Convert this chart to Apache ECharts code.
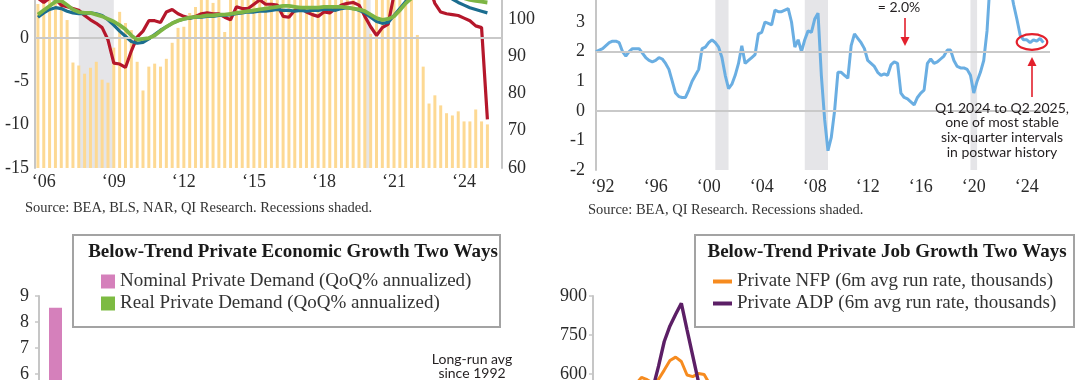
<!DOCTYPE html>
<html><head><meta charset="utf-8">
<script src="https://cdn.jsdelivr.net/npm/echarts@6/dist/echarts.min.js"></script>
<style>html,body{margin:0;padding:0;background:#fff}#c{width:1080px;height:380px}</style>
</head><body><div id="c"></div>
<script>
// ---------- Panel 1 (top-left): quarterly, 2005 Q4 .. 2025 Q3 ----------
const p1Start = [2005, 4];
const p1Count = 80;
const p1TickYears = [2006, 2009, 2012, 2015, 2018, 2021, 2024];
const p1TickLabels = ['\u201806', '\u201809', '\u201812', '\u201815', '\u201818', '\u201821', '\u201824'];
const p1Bars = [104,109,110,108,107,99.7,88.3,87.5,85.3,86.9,88.5,83.7,82.9,92.3,101.9,98.9,97,88.5,80.8,87.2,88,87.2,89.3,93.6,97.6,97.9,101.6,103.2,108,109,104.3,107,96.5,
  108,110,109,111,112,110,109,111,112,113,112,110,111,112,113,112,111,110,109,110,111,110,109,108,
  96,
  108,112,115,116,114,110,107,
  95.7,87.2,77.3,79.5,76.8,74.7,74.1,75.2,72.5,72.5,75.7,72.5,71.7,null,null];
const p1Red = [4.6,4.1,4.6,4.5,3.8,3.6,3.4,3.2,2.6,2.1,
  1.7,1.2,-0.2,-2.9,-3.0,-3.4,-1.5,0.1,0.8,2.0,
  2.0,1.8,3.0,3.3,2.8,2.5,2.3,2.5,2.8,2.9,
  2.8,2.8,2.4,2.1,3.6,3.4,3.4,3.9,4.4,3.9,
  3.9,3.8,2.5,2.4,3.2,3.5,3.0,2.7,2.5,3.0,
  2.9,3.4,3.8,4.0,4.1,3.8,2.5,1.3,0.3,1.2,
  1.6,5.0,8.0,10.0,11.0,11.0,10.0,6.0,4.0,3.0,
  2.8,2.7,2.6,2.3,2.0,1.4,1.2,-9.4,null,null];
const p1Blue = [2.4,2.9,3.3,3.5,3.4,3.1,2.9,2.8,2.8,2.9,
  2.8,2.6,2.1,1.5,0.8,0.2,-0.4,-0.6,-0.5,-0.1,
  0.4,0.9,1.3,1.7,2.0,2.2,2.3,2.4,2.4,2.5,
  2.5,2.6,2.6,2.7,2.8,2.9,3.0,3.0,3.1,3.1,
  3.2,3.3,3.2,3.2,3.1,3.2,3.1,3.2,3.2,3.3,
  3.3,3.2,3.4,3.5,3.4,3.2,2.9,2.4,1.9,1.7,
  1.8,2.6,3.4,4.2,5.0,6.0,7.0,7.4,7.2,6.3,
  5.2,4.5,4.1,3.8,3.5,3.3,3.1,2.9,null,null];
const p1Green = [2.7,3.2,3.7,4.2,4.3,3.8,3.3,3.0,2.9,2.9,
  2.7,2.5,2.2,1.9,1.5,1.0,0.3,-0.2,-0.1,0.0,
  0.3,0.8,1.3,1.7,2.0,2.2,2.35,2.45,2.5,2.6,
  2.6,2.7,2.7,2.8,2.9,3.0,3.1,3.2,3.3,3.4,
  3.5,3.6,3.7,3.7,3.6,3.5,3.5,3.5,3.5,3.6,
  3.6,3.6,3.6,3.5,3.4,3.3,3.1,2.7,2.3,2.1,
  2.2,2.5,3.2,4.0,4.6,5.4,6.0,6.4,6.5,6.2,
  5.7,5.2,4.9,4.6,4.4,4.3,4.2,4.1,null,null];
const p1Recessions = [['2007 Q3', '2009 Q1'], ['2019 Q4', '2020 Q1']];

// ---------- Panel 2 (top-right): quarterly, 1991 Q3 .. 2025 Q4 ----------
const p2Start = [1991, 3];
const p2Count = 138;
const p2TickYears = [1992, 1996, 2000, 2004, 2008, 2012, 2016, 2020, 2024];
const p2TickLabels = ['\u201892', '\u201896', '\u201800', '\u201804', '\u201808', '\u201812', '\u201816', '\u201820', '\u201824'];
const p2Line = [2.0,2.05,2.1,2.2,2.3,2.35,2.35,2.3,2.0,1.85,
  2.0,2.1,2.1,2.1,1.95,1.8,1.7,1.65,1.7,1.8,
  1.75,1.6,1.4,1.0,0.6,0.48,0.45,0.45,0.7,1.0,
  1.2,1.4,2.1,2.15,2.3,2.4,2.3,2.15,1.8,1.2,
  0.75,0.9,1.2,1.6,2.2,1.6,1.7,1.8,1.9,2.6,
  2.65,3.0,2.95,2.9,3.4,3.35,3.35,3.4,3.45,3.0,
  2.15,2.4,2.0,2.4,2.7,2.65,3.1,3.3,1.2,-0.3,
  -1.35,-0.9,0.0,1.3,1.3,1.2,1.1,2.2,2.6,2.45,
  2.3,2.1,1.7,1.6,1.5,1.3,1.2,1.25,1.2,1.55,
  1.65,1.6,0.6,0.45,0.4,0.3,0.2,0.45,0.6,0.7,
  1.6,1.75,1.6,1.65,1.75,1.85,2.05,2.05,1.7,1.5,
  1.45,1.45,1.4,1.2,0.6,1.0,1.3,1.7,2.7,4.5,
  5.5,6.0,6.2,5.8,5.0,4.2,3.6,3.1,2.55,2.4,
  2.4,2.3,2.4,2.35,2.45,2.3,null,null];
const p2Recessions = [['2000 Q3', '2001 Q3'], ['2007 Q2', '2009 Q1'], ['2019 Q4', '2020 Q2']];
const p2RefLines = [0, 2];

// ---------- Panel 3 (bottom-left) ----------
const p3Cats = ['first period'];
const p3Nominal = [8.55];
const p3Real = [null];

// ---------- Panel 4 (bottom-right): monthly ----------
const p4Count = 40;
const p4Nfp = [null,null,null,null,null,null,null,560,587,578,565,580,615,652,665,648,596,590,602,598,560,
  null,null,null,null,null,null,null,null,null,null,null,null,null,null,null,null,null,null,null];
const p4Adp = [null,null,null,null,null,null,null,null,null,null,545,630,725,785,830,872,770,670,570,520,
  null,null,null,null,null,null,null,null,null,null,null,null,null,null,null,null,null,null,null,null];

// ---------- helpers ----------
function quarterCats(start, n) {
  const out = []; let y = start[0], q = start[1];
  for (let i = 0; i < n; i++) { out.push(y + ' Q' + q); q++; if (q > 4) { q = 1; y++; } }
  return out;
}
const p1Cats = quarterCats(p1Start, p1Count);
const p2Cats = quarterCats(p2Start, p2Count);
const p4Cats = Array.from({length: p4Count}, (_, i) => 'm' + (i + 1));
function tickFns(years, labels) {
  const map = {}; years.forEach((y, i) => { map[y + ' Q1'] = labels[i]; });
  return { interval: (idx, v) => map[v] !== undefined, formatter: v => map[v] || '' };
}
const t1 = tickFns(p1TickYears, p1TickLabels);
const t2 = tickFns(p2TickYears, p2TickLabels);

const SERIF = 'Liberation Serif';
const SANS = 'Lato';
const TXT = '#2a2a2a';
const AX = { show: true, lineStyle: { color: '#c6c6c6', width: 2 } };
const lab = (o) => Object.assign({ fontFamily: SERIF, fontSize: 18, color: TXT }, o);
const RED = '#e3202c';

const chart = echarts.init(document.getElementById('c'), null, { renderer: 'canvas' });
chart.setOption({
  animation: false,
  backgroundColor: '#ffffff',
  grid: [
    { left: 35, top: -5.3, width: 467, height: 173.3, outerBoundsMode: 'none' },
    { left: 596, top: -7.6, width: 454, height: 177.6, outerBoundsMode: 'none' },
    { left: 39, top: 296, width: 33, height: 234, outerBoundsMode: 'none' },
    { left: 593, top: 296, width: 228, height: 234, outerBoundsMode: 'none' }
  ],
  xAxis: [
    { type: 'category', gridIndex: 0, data: p1Cats, boundaryGap: true, axisLine: AX, axisTick: { show: false },
      axisLabel: lab({ interval: t1.interval, formatter: t1.formatter, margin: 5 }), splitLine: { show: false } },
    { type: 'category', gridIndex: 1, data: p2Cats, boundaryGap: false, axisLine: AX, axisTick: { show: false },
      axisLabel: lab({ interval: t2.interval, formatter: t2.formatter, margin: 8 }), splitLine: { show: false } },
    { type: 'category', gridIndex: 2, data: p3Cats, show: false },
    { type: 'category', gridIndex: 3, data: p4Cats, show: false, boundaryGap: true }
  ],
  yAxis: [
    { type: 'value', gridIndex: 0, min: -15, max: 5, interval: 5, axisLine: AX, axisTick: { show: false },
      splitLine: { show: false }, axisLabel: lab({ showMaxLabel: false, margin: 6 }) },
    { type: 'value', gridIndex: 0, position: 'right', min: 60, max: 106.5, interval: 10, axisLine: AX, axisTick: { show: false },
      splitLine: { show: false }, axisLabel: lab({ showMaxLabel: false, margin: 6 }) },
    { type: 'value', gridIndex: 1, min: -2, max: 4, interval: 1, axisLine: AX, axisTick: { show: false },
      splitLine: { show: false }, axisLabel: lab({ showMaxLabel: false, margin: 11 }) },
    { type: 'value', gridIndex: 2, min: 0, max: 9, interval: 1, axisLine: AX,
      axisTick: { show: true, length: 4, lineStyle: { color: '#c6c6c6', width: 1.5 } },
      splitLine: { show: false }, axisLabel: lab({ margin: 10 }) },
    { type: 'value', gridIndex: 3, min: 0, max: 900, interval: 150, axisLine: AX,
      axisTick: { show: true, length: 4, lineStyle: { color: '#c6c6c6', width: 1.5 } },
      splitLine: { show: false }, axisLabel: lab({ margin: 6 }) }
  ],
  legend: [
    { data: ['Nominal Private Demand (QoQ% annualized)', 'Real Private Demand (QoQ% annualized)'],
      left: 96, top: 267, orient: 'vertical', icon: 'rect', itemWidth: 14, itemHeight: 14, itemGap: 3,
      selectedMode: false, textStyle: { fontFamily: SERIF, fontSize: 19, color: '#333' }, z: 10 },
    { data: ['Private NFP (6m avg run rate, thousands)', 'Private ADP (6m avg run rate, thousands)'],
      left: 708, top: 267, orient: 'vertical', icon: 'rect', itemWidth: 19, itemHeight: 4, itemGap: 3,
      selectedMode: false, textStyle: { fontFamily: SERIF, fontSize: 19, color: '#333' }, z: 10 }
  ],
  series: [
    { type: 'line', xAxisIndex: 0, yAxisIndex: 0, data: p1Cats.map(() => null), z: 1, silent: true,
      markArea: { silent: true, itemStyle: { color: '#e5e5e8' },
        data: p1Recessions.map(r => [{ xAxis: r[0] }, { xAxis: r[1] }]) } },
    { type: 'bar', name: 'p1bars', xAxisIndex: 0, yAxisIndex: 1, data: p1Bars, barWidth: 3, z: 2,
      itemStyle: { color: '#fdd993' }, clip: true },
    { type: 'line', name: 'p1red', xAxisIndex: 0, yAxisIndex: 0, data: p1Red, showSymbol: false, symbol: 'none', z: 3,
      color: '#b5172b', lineStyle: { color: '#b5172b', width: 3.2 }, clip: true,
      markLine: { silent: true, symbol: 'none', label: { show: false }, lineStyle: { color: '#c9c9c9', width: 2, type: 'solid' },
        data: [{ yAxis: 0 }] } },
    { type: 'line', name: 'p1blue', xAxisIndex: 0, yAxisIndex: 0, data: p1Blue, showSymbol: false, symbol: 'none', z: 4,
      color: '#1b6d8f', lineStyle: { color: '#1b6d8f', width: 3.2 }, clip: true },
    { type: 'line', name: 'p1green', xAxisIndex: 0, yAxisIndex: 0, data: p1Green, showSymbol: false, symbol: 'none', z: 5,
      color: '#7db544', lineStyle: { color: '#7db544', width: 3.8 }, clip: true },

    { type: 'line', xAxisIndex: 1, yAxisIndex: 2, data: p2Cats.map(() => null), z: 1, silent: true,
      markArea: { silent: true, itemStyle: { color: '#e5e5e8' },
        data: p2Recessions.map(r => [{ xAxis: r[0] }, { xAxis: r[1] }]) },
      markLine: { silent: true, symbol: 'none', label: { show: false }, lineStyle: { color: '#c9c9c9', width: 2, type: 'solid' },
        data: p2RefLines.map(v => ({ yAxis: v })) } },
    { type: 'line', name: 'p2line', xAxisIndex: 1, yAxisIndex: 2, data: p2Line, showSymbol: false, symbol: 'none', z: 3,
      color: '#6aaee2', lineStyle: { color: '#6aaee2', width: 3 }, clip: true },

    { type: 'bar', name: 'Nominal Private Demand (QoQ% annualized)', xAxisIndex: 2, yAxisIndex: 3, data: p3Nominal,
      barWidth: 13, barGap: '-100%', color: '#d580bb', itemStyle: { color: '#d580bb' } },
    { type: 'bar', name: 'Real Private Demand (QoQ% annualized)', xAxisIndex: 2, yAxisIndex: 3, data: p3Real,
      barWidth: 13, barGap: '-100%', color: '#7dbb42', itemStyle: { color: '#7dbb42' } },

    { type: 'line', name: 'Private NFP (6m avg run rate, thousands)', xAxisIndex: 3, yAxisIndex: 4, data: p4Nfp,
      showSymbol: false, symbol: 'none', color: '#f68b1f', itemStyle: { color: '#f68b1f' },
      lineStyle: { color: '#f68b1f', width: 3 }, clip: true, z: 3 },
    { type: 'line', name: 'Private ADP (6m avg run rate, thousands)', xAxisIndex: 3, yAxisIndex: 4, data: p4Adp,
      showSymbol: false, symbol: 'none', color: '#5c1f66', itemStyle: { color: '#5c1f66' },
      lineStyle: { color: '#5c1f66', width: 3.4 }, clip: true, z: 4 }
  ],
  graphic: [
    { type: 'text', left: 25, top: 201, z: 5, style: { text: 'Source: BEA, BLS, NAR, QI Research. Recessions shaded.', fontFamily: SERIF, fontSize: 14.5, fill: '#333' } },
    { type: 'text', left: 588, top: 203, z: 5, style: { text: 'Source: BEA, QI Research. Recessions shaded.', fontFamily: SERIF, fontSize: 14.5, fill: '#333' } },

    // top-right annotations
    { type: 'text', z: 6, style: { text: '= 2.0%', x: 899, y: 7, textAlign: 'center', textVerticalAlign: 'middle', fontFamily: SANS, fontSize: 14, fill: '#231f20' } },
    { type: 'line', z: 6, shape: { x1: 905, y1: 18, x2: 905, y2: 39 }, style: { stroke: RED, lineWidth: 1.6 } },
    { type: 'polygon', z: 6, shape: { points: [[900.5, 37], [909.5, 37], [905, 46]] }, style: { fill: RED } },
    { type: 'ellipse', z: 6, shape: { cx: 1032, cy: 42, rx: 15.3, ry: 7.8 }, style: { fill: 'none', stroke: RED, lineWidth: 2.2 } },
    { type: 'line', z: 6, shape: { x1: 1032, y1: 97, x2: 1032, y2: 64 }, style: { stroke: RED, lineWidth: 1.6 } },
    { type: 'polygon', z: 6, shape: { points: [[1027.5, 66], [1036.5, 66], [1032, 57]] }, style: { fill: RED } },
    { type: 'text', z: 6, style: { text: 'Q1 2024 to Q2 2025,\none of most stable\nsix-quarter intervals\nin postwar history',
      x: 1002, y: 101, textAlign: 'center', textVerticalAlign: 'top', fontFamily: SANS, fontSize: 14, lineHeight: 14.6, fill: '#231f20' } },

    // bottom-left legend box
    { type: 'rect', z: 8, shape: { x: 73, y: 235, width: 427, height: 92 }, style: { fill: '#fff', stroke: '#a3a3a3', lineWidth: 2 } },
    { type: 'text', z: 9, style: { text: 'Below-Trend Private Economic Growth Two Ways', x: 293, y: 252, textAlign: 'center', textVerticalAlign: 'middle',
      fontFamily: SERIF, fontSize: 19, fontWeight: 'bold', fill: '#1a1a1a' } },
    { type: 'text', z: 6, style: { text: 'Long-run avg\nsince 1992', x: 472, y: 353, textAlign: 'center', textVerticalAlign: 'top',
      fontFamily: SANS, fontSize: 14, lineHeight: 13.5, fill: '#231f20' } },

    // bottom-right legend box
    { type: 'rect', z: 8, shape: { x: 695, y: 235, width: 379, height: 92 }, style: { fill: '#fff', stroke: '#a3a3a3', lineWidth: 2 } },
    { type: 'text', z: 9, style: { text: 'Below-Trend Private Job Growth Two Ways', x: 887, y: 252, textAlign: 'center', textVerticalAlign: 'middle',
      fontFamily: SERIF, fontSize: 19, fontWeight: 'bold', fill: '#1a1a1a' } }
  ]
});
</script></body></html>
